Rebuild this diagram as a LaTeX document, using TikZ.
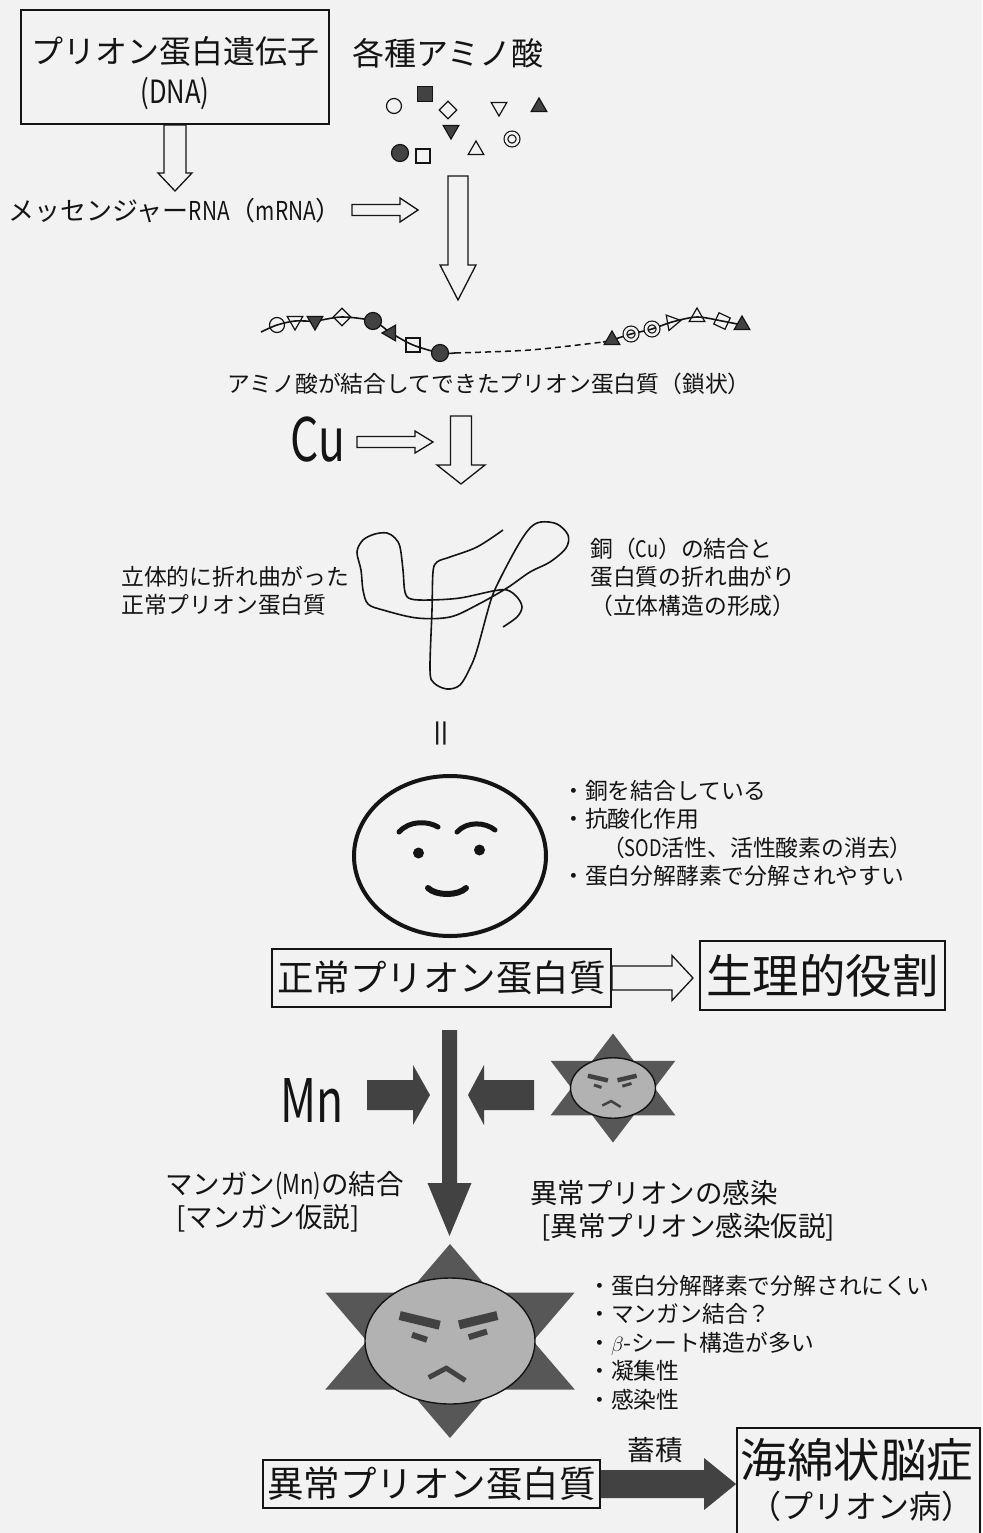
\documentclass[tikz,border=0pt]{standalone}
\usepackage{fontspec}
\setmainfont{Noto Sans CJK JP}
\usetikzlibrary{calc,positioning,shapes.geometric}

\colorlet{paper}{black!5}
\colorlet{ink}{black!92}
\colorlet{dark fill}{black!74}
\colorlet{star fill}{black!66}
\colorlet{face fill}{black!30}

% narrow latin letters
\newcommand{\nar}[1]{\scalebox{0.8}[1]{#1}}
\newcommand{\tall}[1]{\scalebox{0.74}[1]{#1}}

% block arrows: style, tail, tip, shaft half width, head half width, head length
\newcommand{\blockdown}[6]{%
  \path[#1] let \p1=(#2), \p2=(#3) in
    ({\x1-#4},{\y1}) -- ({\x1-#4},{\y2+#6}) -- ({\x1-#5},{\y2+#6}) -- ({\x1},{\y2})
    -- ({\x1+#5},{\y2+#6}) -- ({\x1+#4},{\y2+#6}) -- ({\x1+#4},{\y1}) -- cycle;}
\newcommand{\blockside}[6]{%
  \path[#1] let \p1=(#2), \p2=(#3) in
    ({\x1},{\y1+#4}) -- ({\x2-(#6)},{\y1+#4}) -- ({\x2-(#6)},{\y1+#5}) -- ({\x2},{\y1})
    -- ({\x2-(#6)},{\y1-#5}) -- ({\x2-(#6)},{\y1-#4}) -- ({\x1},{\y1-#4}) -- cycle;}

\tikzset{
  box/.style={draw=ink, line width=1.8pt, inner sep=0pt},
  openarrow/.style={draw=ink, fill=paper, line width=1.3pt, line join=miter},
  fullarrow/.style={fill=dark fill},
  txt/.style={inner sep=0pt, text=ink},
  txt23/.style={txt, font=\fontsize{22.8}{28.4}\selectfont},
  txt26/.style={txt, font=\fontsize{26}{32}\selectfont},
  txt27/.style={txt, font=\fontsize{27.5}{33}\selectfont},
  txt32/.style={txt, font=\fontsize{32}{40}\selectfont},
  txt36/.style={txt, font=\fontsize{36.5}{44}\selectfont},
  txt46/.style={txt, font=\fontsize{46.5}{52}\selectfont},
  txtbig/.style={txt, font=\fontsize{60}{60}\selectfont},
  sym/.style={inner sep=0pt, line width=1.2pt, draw=ink},
  ocirc/.style={sym, circle, minimum size=15},
  fcirc/.style={sym, circle, fill=dark fill, minimum size=17},
  dcirc/.style={sym, circle, double=paper, double distance=2.6pt, minimum size=12},
  osq/.style={sym, rectangle, minimum size=14},
  fsq/.style={sym, rectangle, fill=dark fill, minimum size=15},
  odia/.style={sym, diamond, minimum size=18},
  odiar/.style={odia, rotate=20},
  otri/.style={sym, regular polygon, regular polygon sides=3, minimum size=18},
  ftri/.style={otri, fill=dark fill},
  odown/.style={otri, shape border rotate=180},
  odownr/.style={otri, shape border rotate=160},
  fdown/.style={ftri, shape border rotate=180},
  fdownr/.style={ftri, shape border rotate=210}
}

\begin{document}
\begin{tikzpicture}[x=1pt, y=-1pt]
\fill[paper] (0,0) rectangle (982,1533);
\useasboundingbox (0,0) rectangle (982,1533);

% gene, messenger and free amino acids
\node[box, minimum width=308, minimum height=114] (dna) at (175,67) {};
\node[txt32, align=center] (dnatxt) at (175,73) {プリオン蛋白遺伝子\\\nar{(DNA)}};
\node[txt32] (amino) at (448,53) {各種アミノ酸};
\foreach \x/\y/\kind/\name in {394/106/ocirc/a1, 425/94/fsq/a2, 448/110/odia/a3,
    499/107/odown/a4, 539/107/ftri/a5, 451/130/fdown/a6, 512/139/dcirc/a7,
    400/153/fcirc/a8, 423/156/osq/a9, 476/150/otri/a10}
  \node[\kind] (\name) at (\x,\y) {};

\node[txt26, anchor=west] (mrna) at (8,211) {メッセンジャー\nar{RNA}（\nar{mRNA}）};

\coordinate (dnaTip) at (174,191);
\coordinate (mrnaTail) at (352,210);
\coordinate (mrnaTip) at (418,210);
\coordinate (aaTail) at (458,176);
\coordinate (aaTip) at (458,300);
\blockdown{openarrow}{dna.south}{dnaTip}{11pt}{17pt}{18pt}
\blockside{openarrow}{mrnaTail}{mrnaTip}{5.5pt}{12pt}{18pt}
\blockdown{openarrow}{aaTail}{aaTip}{10pt}{18pt}{35pt}

% the chain
\foreach \x/\y/\name in {261/332/s0, 277/325/c1, 295/321/c2, 315/321/c3,
    342/317/c4, 373/321/c5, 391/333/c6, 413/345/c7, 440/353/c8, 455/353/e1,
    530/350/m1, 603/342/s2, 612/340/c9, 631/334/c10, 652/329/c11,
    672/322/c12, 697/317/c13, 722/321/c14, 742/325/c15}
  \coordinate (\name) at (\x,\y);
\draw[ink, line width=1.6pt] plot[smooth, tension=0.5] coordinates
  {(s0) (c1) (c2) (c3) (c4) (c5) (c6) (c7) (c8) (e1)};
\draw[ink, line width=1.5pt, dash pattern=on 6pt off 4pt] plot[smooth] coordinates
  {(e1) (m1) (s2)};
\draw[ink, line width=1.6pt] plot[smooth, tension=0.5] coordinates
  {(s2) (c9) (c10) (c11) (c12) (c13) (c14) (c15)};
\foreach \name/\kind in {c1/ocirc, c2/odown, c3/fdown, c4/odia, c5/fcirc,
    c6/fdownr, c7/osq, c8/fcirc, c9/ftri, c10/dcirc, c11/dcirc, c12/odownr,
    c13/otri, c14/odiar, c15/ftri}
  \node[\kind] at (\name) {};
\node[txt23] (chainlbl) at (489,384) {アミノ酸が結合してできたプリオン蛋白質（鎖状）};

% copper and folding
\node[txtbig] (cu) at (318,440) {\tall{Cu}};
\coordinate (cuTail) at (357,442);
\coordinate (cuTip) at (433,442);
\coordinate (foldTail) at (461,416);
\coordinate (foldTip) at (461,484);
\blockside{openarrow}{cuTail}{cuTip}{5.5pt}{11pt}{18pt}
\blockdown{openarrow}{foldTail}{foldTip}{10.5pt}{24pt}{19pt}

\draw[ink, line width=1.6pt] plot[smooth, tension=0.55] coordinates {(503,530) (477,547)
  (450,557) (437,562) (433,572) (432,610) (430,670) (434,683) (447,689) (460,685)
  (470,668) (477,650) (490,603) (498,583) (517,547) (530,528) (541,522) (557,524)
  (568,535) (566,548) (550,562) (530,572) (507,588) (477,605) (450,617) (417,618)
  (383,610) (368,604) (363,590) (361,570) (357,552) (363,540) (375,534) (387,533)
  (395,538) (400,547) (403,570) (405,592) (411,599) (430,600) (460,598) (493,591)
  (507,590) (517,597) (522,607) (517,617) (503,627)};
\node[txt23, anchor=west, align=left] (foldl) at (121,591) {立体的に折れ曲がった\\正常プリオン蛋白質};
\node[txt23, anchor=west, align=left] (foldr) at (590,577) {銅（\nar{Cu}）の結合と\\蛋白質の折れ曲がり\\（立体構造の形成）};
\node[txt32, rotate=90] (eq) at (445,733) {＝};

% normal prion
\draw[ink, line width=4pt] (450,856) ellipse [x radius=96, y radius=80];
\fill[ink] (418.5,853) circle [radius=5.5] (479.5,850) circle [radius=5.5];
\draw[ink, line width=5pt, line cap=round] (399,832) .. controls (410,820) and (428,821) .. (438,827);
\draw[ink, line width=5pt, line cap=round] (457,832) .. controls (467,821) and (485,822) .. (495,830);
\draw[ink, line width=6pt, line cap=round] (428,888) .. controls (436,896) and (458,896) .. (466,888);
\node[txt23, anchor=west, align=left] (goodlist) at (562,833.5) {・銅を結合している\\・抗酸化作用\\\hspace*{1.75em}（\nar{SOD}活性、活性酸素の消去）\\・蛋白分解酵素で分解されやすい};

\node[box, txt36, minimum width=339, minimum height=58] (normal) at (441.5,978) {正常プリオン蛋白質};
\node[box, txt46, minimum width=245, minimum height=69] (role) at (822.5,975.5) {生理的役割};
\coordinate (roleTip) at (693,976);
\blockside{openarrow}{normal.east}{roleTip}{12pt}{22.5pt}{21pt}

% manganese and infection
\coordinate (mainTail) at (449.5,1030);
\coordinate (mainTip) at (449.5,1236);
\blockdown{fullarrow}{mainTail}{mainTip}{7.5pt}{22pt}{53pt}
\node[txtbig] (mn) at (312,1100) {\tall{Mn}};
\coordinate (mnTail) at (367,1095);
\coordinate (mnTip) at (430,1095);
\coordinate (infTail) at (534,1095);
\coordinate (infTip) at (468,1095);
\blockside{fullarrow}{mnTail}{mnTip}{15pt}{30pt}{17pt}
\blockside{fullarrow}{infTail}{infTip}{15pt}{30pt}{-16pt}
\node[txt27, anchor=west, align=left] (mnhyp) at (165,1202) {マンガン\nar{(Mn)}の結合\\\hspace*{0.4em}[マンガン仮説]};
\node[txt27, anchor=west, align=left] (infhyp) at (530,1211) {異常プリオンの感染\\\hspace*{0.4em}[異常プリオン感染仮説]};

% angry prions: centre, face scale, star radii
\foreach \cx/\cy/\fx/\fy/\rx/\ry in {450/1341/1/1/144/97, 613/1088/0.5/0.48/72/54.5}{
  \begin{scope}[shift={(\cx,\cy)}]
    \fill[star fill] (0,-\ry) -- ({0.866*\rx},{0.5*\ry}) -- ({-0.866*\rx},{0.5*\ry}) -- cycle;
    \fill[star fill] (0,\ry) -- ({0.866*\rx},{-0.5*\ry}) -- ({-0.866*\rx},{-0.5*\ry}) -- cycle;
    \filldraw[fill=face fill, draw=ink, line width=1.4pt] (0,0) ellipse [x radius=85*\fx, y radius=63*\fy];
    \begin{scope}[xscale=\fx, yscale=\fy, draw=dark fill]
      \draw[line width=9*\fx] (-50.3,-25.5) -- (-10.3,-15.8);
      \draw[line width=9*\fx] (9,-16.2) -- (47.3,-25.5);
      \draw[line width=6*\fx] (-38,-6.2) -- (-23,-1.2);
      \draw[line width=6*\fx] (18.7,-3.8) -- (37,-9.5);
      \draw[line width=5*\fx] (-21.3,36.5) -- (-3.7,27.2) -- (15.3,39.5);
    \end{scope}
  \end{scope}
}
\node[txt23, anchor=west, align=left] (badlist) at (588,1342.5) {・蛋白分解酵素で分解されにくい\\・マンガン結合？\\・$\beta$-シート構造が多い\\・凝集性\\・感染性};

% accumulation and disease
\node[box, txt36, minimum width=337, minimum height=48] (abnormal) at (431.5,1484) {異常プリオン蛋白質};
\node[box, minimum width=243, minimum height=117] (disease) at (858.5,1486.5) {};
\node[txt46] (diseasetxt) at (857,1460) {海綿状脳症};
\node[txt32] (diseasesub) at (861,1506) {（プリオン病）};
\coordinate (accTip) at (disease.west |- abnormal.east);
\blockside{fullarrow}{abnormal.east}{accTip}{14pt}{26pt}{32pt}
\node[txt27] (acc) at (655,1450) {蓄積};
\end{tikzpicture}
\end{document}
